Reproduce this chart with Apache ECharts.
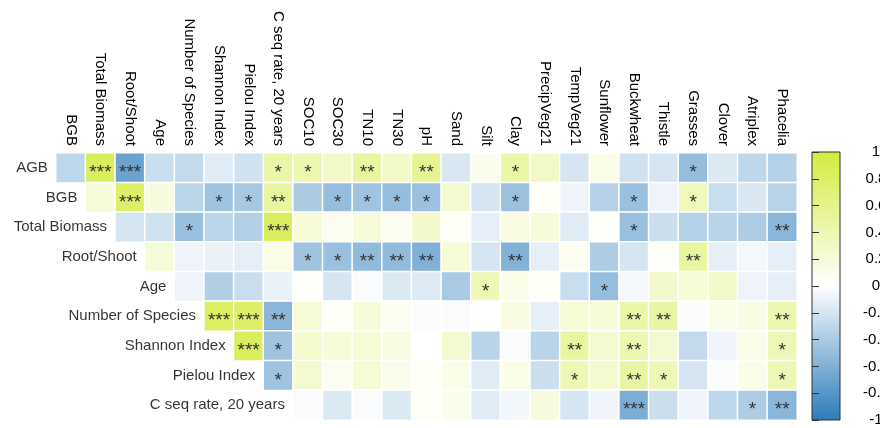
<!DOCTYPE html>
<html>
<head>
<meta charset="utf-8">
<script src="https://cdn.jsdelivr.net/npm/echarts@6/dist/echarts.min.js"></script>
<style>html,body{margin:0;padding:0;background:#fff}#c{width:880px;height:428px}</style>
</head>
<body>
<div id="c"></div>
<script>
const columns = ["BGB","Total Biomass","Root/Shoot","Age","Number of Species","Shannon Index","Pielou Index","C seq rate, 20 years","SOC10","SOC30","TN10","TN30","pH","Sand","Silt","Clay","PrecipVeg21","TempVeg21","Sunflower","Buckwheat","Thistle","Grasses","Clover","Atriplex","Phacelia"];
const rows = ["AGB","BGB","Total Biomass","Root/Shoot","Age","Number of Species","Shannon Index","Pielou Index","C seq rate, 20 years"];

// each row's values start at column index = row index (upper triangle)
const rAGB = [-0.3,0.85,-0.7,-0.25,-0.28,-0.15,-0.22,0.45,0.42,0.3,0.5,0.3,0.55,-0.18,0.1,0.45,0.3,-0.2,0.12,-0.22,-0.2,-0.5,-0.17,-0.3,-0.35];
const sAGB = ["","***","***","","","","","*","*","","**","","**","","","*","","","","","","*","","",""];
const rBGB = [0.2,0.8,0.18,-0.32,-0.45,-0.42,0.5,-0.4,-0.5,-0.45,-0.5,-0.47,0.25,-0.2,-0.47,0.05,-0.08,-0.34,-0.48,-0.08,0.35,-0.26,-0.18,-0.33];
const sBGB = ["","***","","","*","*","**","","*","*","*","*","","","*","","","","*","","*","","",""];
const rTotal = [-0.2,-0.22,-0.48,-0.32,-0.36,0.85,0.22,0.08,0.2,0.08,0.28,0.05,-0.12,0.15,0.2,-0.15,0.02,-0.48,-0.25,-0.35,-0.33,-0.38,-0.55];
const sTotal = ["","","*","","","***","","","","","","","","","","","","*","","","","","**"];
const rRoot = [0.2,-0.08,-0.1,-0.12,0.12,-0.45,-0.48,-0.52,-0.52,-0.6,0.22,-0.2,-0.58,-0.12,0.08,-0.38,-0.2,0.03,0.5,-0.12,-0.05,-0.12];
const sRoot = ["","","","","","*","*","**","**","**","","","**","","","","","","**","","",""];
const rAge = [-0.08,-0.37,-0.26,-0.1,0.02,-0.2,-0.03,-0.17,-0.16,-0.4,0.4,0.12,0.05,-0.26,-0.5,-0.05,0.28,0.22,0.3,-0.08,-0.12];
const sAge = ["","","","","","","","","","","*","","","","*","","","","","",""];
const rNum = [0.82,0.8,-0.55,0.22,0.05,0.2,0.08,-0.02,-0.02,0.01,0.15,-0.12,0.22,0.2,0.45,0.48,-0.02,0.12,0.15,0.42];
const sNum = ["***","***","**","","","","","","","","","","","","**","**","","","","**"];
const rShannon = [0.85,-0.45,0.27,0.2,0.22,0.15,0.01,0.25,-0.33,-0.03,-0.33,0.5,0.25,0.42,0.25,-0.28,-0.08,0.12,0.38];
const sShannon = ["***","*","","","","","","","","","","**","","**","","","","","*"];
const rPielou = [-0.45,0.25,0.08,0.22,0.1,0.05,0.12,-0.15,0.12,-0.25,0.4,0.25,0.48,0.38,-0.2,-0.02,0.12,0.38];
const sPielou = ["*","","","","","","","","","","*","","**","*","","","","*"];
const rCseq = [-0.03,-0.17,-0.03,-0.17,0.05,0.1,-0.15,-0.06,0.18,-0.2,-0.08,-0.62,-0.25,-0.08,-0.3,-0.38,-0.55];
const sCseq = ["","","","","","","","","","","","***","","","","*","**"];

const rowValues = [rAGB,rBGB,rTotal,rRoot,rAge,rNum,rShannon,rPielou,rCseq];
const rowStars = [sAGB,sBGB,sTotal,sRoot,sAge,sNum,sShannon,sPielou,sCseq];

const BLUE = '#2B7BBA', GREEN = '#D4EB40';

const heat = [];
rowValues.forEach((vals, r) => {
  vals.forEach((v, k) => {
    heat.push({value: [r + k, r, v], stars: rowStars[r][k]});
  });
});
const labelPts = rows.map((name, r) => ({value: [r, r], name: name}));

const chart = echarts.init(document.getElementById('c'), null, {renderer: 'canvas'});
chart.setOption({
  animation: false,
  backgroundColor: '#fff',
  textStyle: {fontFamily: 'Liberation Sans, Arial, sans-serif'},
  grid: [
    {left: 56, top: 153, width: 741, height: 267, containLabel: false, outerBoundsMode: 'none'},
    {left: 812, top: 152, width: 28, height: 268, containLabel: false, outerBoundsMode: 'none',
     show: true, borderColor: '#333', borderWidth: 1,
     backgroundColor: {type: 'linear', x: 0, y: 0, x2: 0, y2: 1, colorStops: [
       {offset: 0, color: GREEN}, {offset: 0.5, color: '#ffffff'}, {offset: 1, color: BLUE}]}}
  ],
  xAxis: [
    {type: 'category', data: columns, position: 'top', gridIndex: 0,
     axisLine: {show: false}, axisTick: {show: false}, splitLine: {show: false},
     axisLabel: {rotate: 90, interval: 0, fontSize: 15, color: '#000', margin: 7}},
    {type: 'value', gridIndex: 1, show: false, min: 0, max: 1}
  ],
  yAxis: [
    {type: 'category', data: rows, inverse: true, gridIndex: 0,
     axisLine: {show: false}, axisTick: {show: false}, axisLabel: {show: false}, splitLine: {show: false}},
    {type: 'value', gridIndex: 1, position: 'right', min: -1, max: 1, interval: 0.2,
     axisLine: {show: false}, splitLine: {show: false},
     axisTick: {show: true, length: 7, lineStyle: {color: '#333'}},
     axisLabel: {fontSize: 15, color: '#000', align: 'center', margin: 36,
       formatter: v => { const t = Math.round(v * 10) / 10; return String(t); }}}
  ],
  visualMap: {
    type: 'continuous', show: false, min: -1, max: 1, dimension: 2, seriesIndex: 0,
    inRange: {color: [BLUE, '#ffffff', GREEN]}
  },
  series: [
    {type: 'heatmap', xAxisIndex: 0, yAxisIndex: 0, data: heat,
     itemStyle: {borderColor: '#fff', borderWidth: 1.5},
     label: {show: true, formatter: p => p.data.stars, fontSize: 19, color: '#333', offset: [0, 5]},
     emphasis: {disabled: true}},
    {type: 'scatter', xAxisIndex: 0, yAxisIndex: 0, data: labelPts, symbolSize: 0,
     label: {show: true, position: 'left', distance: 23, formatter: p => p.data.name,
       fontSize: 15, color: '#000'}, silent: true}
  ]
});
</script>
</body>
</html>
